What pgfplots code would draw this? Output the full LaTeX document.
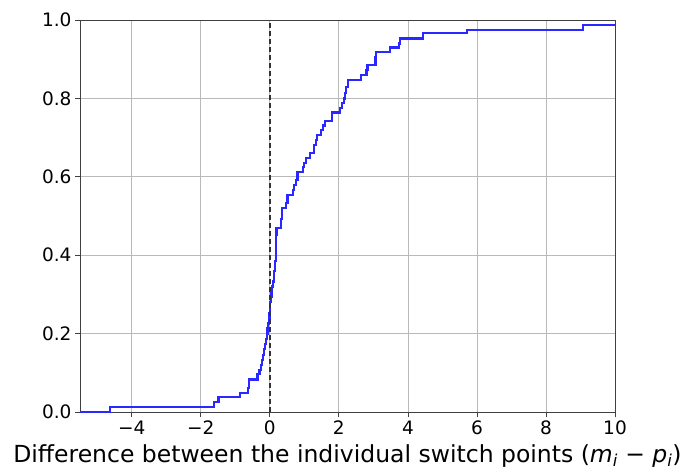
\documentclass[border=0pt]{standalone}
\usepackage{fontspec}
\setmainfont{DejaVu Sans}
\usepackage{pgfplots}
\pgfplotsset{compat=1.18}
\begin{document}
\begin{tikzpicture}
\begin{axis}[
  name=ax,
  width=535pt, height=392pt, scale only axis,
  xmin=-5.5, xmax=10, ymin=0, ymax=1,
  xtick={-4,-2,0,2,4,6,8,10},
  xticklabels={−4,−2,0,2,4,6,8,10},
  ytick={0,0.2,0.4,0.6,0.8,1.0},
  yticklabels={0.0,0.2,0.4,0.6,0.8,1.0},
  xtick pos=bottom, ytick pos=left,
  tick align=outside, major tick length=5pt,
  tick style={black!75, line width=0.8pt},
  grid=major, grid style={gray!55, line width=0.8pt},
  axis line style={black!75, line width=0.8pt},
  ticklabel style={font=\fontsize{18.5}{22}\selectfont},
  xlabel={Difference between the individual switch points (\textit{m}\textsubscript{\textit{i}} − \textit{p}\textsubscript{\textit{i}})},
  xlabel style={font=\fontsize{23.5}{28}\selectfont, yshift=-3pt},
  clip=true,
]
\addplot[const plot mark left, color={rgb,255:red,40;green,40;blue,255}, line width=2.2pt] coordinates {
(-5.5,0) (-4.64,0.013) (-1.62,0.026) (-1.49,0.039) (-0.87,0.048) (-0.64,0.061) (-0.6,0.083)
(-0.36,0.096) (-0.3,0.108) (-0.25,0.12) (-0.22,0.133) (-0.19,0.146) (-0.16,0.16) (-0.14,0.173)
(-0.11,0.186) (-0.09,0.2) (-0.07,0.213) (-0.05,0.226) (-0.03,0.24) (-0.01,0.253) (0.0,0.266)
(0.01,0.28) (0.03,0.293) (0.05,0.306) (0.07,0.32) (0.09,0.333) (0.11,0.346) (0.13,0.36)
(0.15,0.373) (0.16,0.386) (0.17,0.4) (0.175,0.413) (0.18,0.426) (0.185,0.44) (0.19,0.453)
(0.195,0.47) (0.32,0.493) (0.35,0.52) (0.46,0.533) (0.51,0.553) (0.66,0.566) (0.69,0.579)
(0.75,0.592) (0.8,0.613) (0.95,0.626) (1.0,0.636) (1.04,0.647) (1.17,0.66) (1.27,0.681)
(1.33,0.694) (1.36,0.707) (1.48,0.72) (1.55,0.731) (1.6,0.742) (1.79,0.764) (2.03,0.775)
(2.09,0.788) (2.14,0.8) (2.18,0.813) (2.21,0.83) (2.26,0.847) (2.64,0.86) (2.8,0.872)
(2.83,0.885) (3.06,0.905) (3.08,0.918) (3.48,0.93) (3.74,0.94) (3.78,0.953) (4.43,0.966)
(5.72,0.974) (9.08,0.987) (10.05,1.0)
};
\addplot[black!80, line width=1.6pt, dash pattern=on 5pt off 3pt] coordinates {(0,0) (0,1)};
\end{axis}
\pgfresetboundingbox
\path ([shift={(-80pt,-60pt)}]ax.south west) rectangle ([shift={(73pt,20pt)}]ax.north east);
\end{tikzpicture}
\end{document}
